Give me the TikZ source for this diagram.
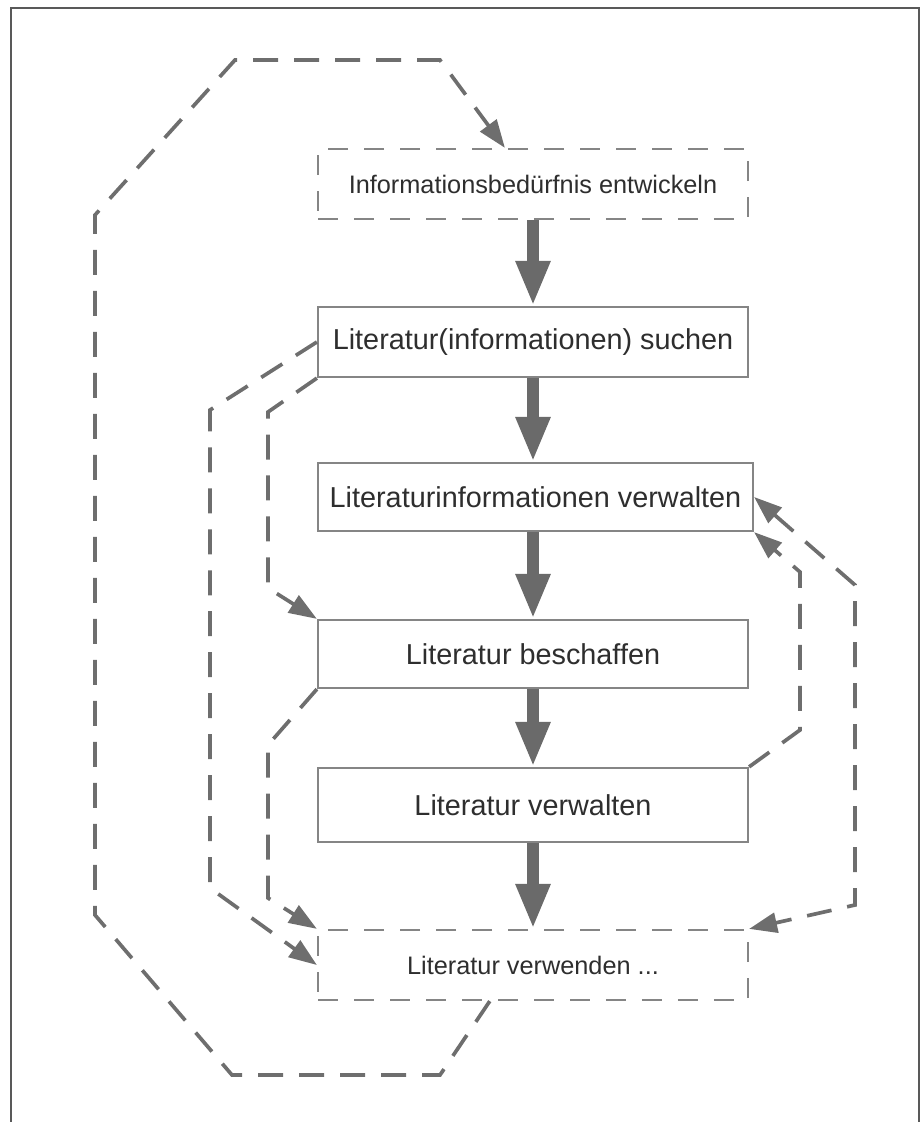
\documentclass[tikz,border=0pt]{standalone}
\usepackage{fontspec}
\setmainfont{Liberation Sans}
\usepackage{tikz}
\usepackage{xcolor}
\usetikzlibrary{calc}
\usetikzlibrary{positioning, arrows.meta}

\definecolor{boxgray}{HTML}{858585}
\definecolor{arrowgray}{HTML}{6A6A6A}
\definecolor{linegray}{HTML}{6E6E6E}
\definecolor{textgray}{HTML}{2E2E2E}

\begin{document}
\begin{tikzpicture}[x=0.02cm, y=-0.02cm]
                % Styles for the boxes and the arrows
                \tikzstyle{stepbox}=[draw=boxgray, line width=1.3pt, fill=white, minimum width=8.6cm, minimum height=1.4cm, inner sep=0pt, text=textgray, font=\fontsize{16.4}{19}\selectfont];
                \tikzstyle{openbox}=[stepbox, dash pattern=on 0.4cm off 0.32cm, font=\fontsize{14.4}{17}\selectfont];
                \tikzstyle{mainflow}=[draw=arrowgray, line width=0.24cm, -{Triangle[length=0.9cm, width=0.64cm]}];
                \tikzstyle{backflow}=[draw=linegray, line width=2.1pt, dash pattern=on 0.5cm off 0.32cm, >={Triangle[length=0.56cm, width=0.4cm]}, ->];

                \useasboundingbox (0,0) rectangle (922,1122);

                % Frame (open at the bottom)
                \draw[line width=1.3pt, black!65] (11,1122) -- (11,8) -- (919,8) -- (919,1122);

                % Steps
                \node[openbox] (beduerfnis) at (533,184) {Informationsbedürfnis entwickeln};
                \node[stepbox] (suchen) at (533,342) {Literatur(informationen) suchen};
                \node[stepbox, minimum width=8.7cm, minimum height=1.36cm] (infoverw) at (535.5,497) {Literaturinformationen verwalten};
                \node[stepbox, minimum height=1.36cm] (beschaffen) at (533,654) {Literatur beschaffen};
                \node[stepbox, minimum height=1.48cm] (litverw) at (533,805) {Literatur verwalten};
                \node[openbox] (verwenden) at (533,965) {Literatur verwenden ...};

                % Main flow
                \draw[mainflow] (beduerfnis) -- (suchen);
                \draw[mainflow] (suchen) -- (suchen |- infoverw.north);
                \draw[mainflow] (infoverw.south -| beschaffen) -- (beschaffen);
                \draw[mainflow] (beschaffen) -- (litverw);
                \draw[mainflow] (litverw) -- (verwenden);

                % Loops back and shortcuts
                \draw[backflow] ($(verwenden.south west)!0.4!(verwenden.south east)$) -- (440,1075) -- (232,1075) -- (95,915) -- (95,215) -- (235,60) -- (440,60) -- ($(beduerfnis.north west)!0.435!(beduerfnis.north east)$);
                \draw[backflow] (suchen.west) -- (210,410) -- (210,888) -- (verwenden.west);
                \draw[backflow] (suchen.south west) -- (268,412) -- (268,588) -- (beschaffen.north west);
                \draw[backflow] (beschaffen.south west) -- (268,745) -- (268,898) -- (verwenden.north west);
                \draw[backflow] (litverw.north east) -- (800,730) -- (800,572) -- (infoverw.south east);
                \draw[backflow, <->] (infoverw.east) -- (855,585) -- (855,905) -- (verwenden.north east);

            \end{tikzpicture}
\end{document}
